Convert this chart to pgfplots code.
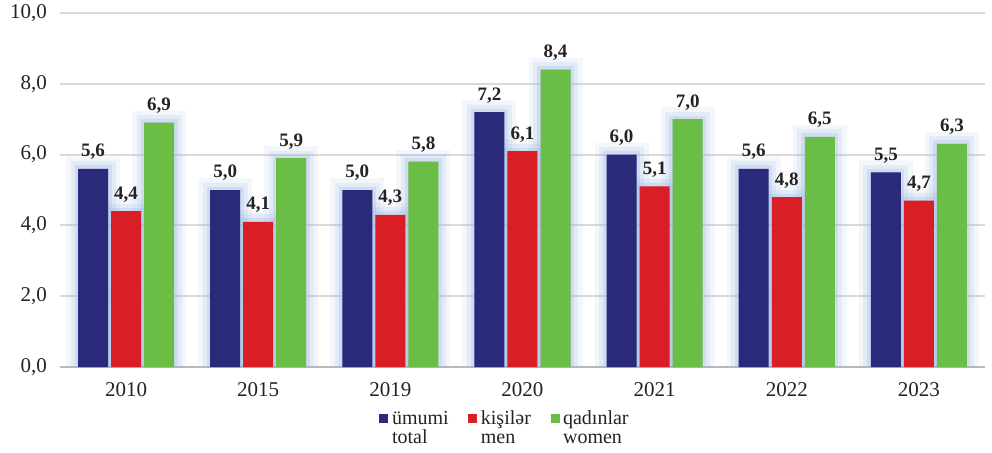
\documentclass[border=0pt]{standalone}
\usepackage{fontspec}
\setmainfont{Liberation Serif}
\usepackage{pgfplots}
\pgfplotsset{compat=1.18}
\definecolor{cblue}{RGB}{43,42,122}
\definecolor{cred}{RGB}{218,30,38}
\definecolor{cgreen}{RGB}{106,189,69}
\definecolor{halo}{RGB}{160,187,228}
\definecolor{gridc}{RGB}{218,218,218}
\definecolor{txt}{RGB}{35,35,35}
\begin{document}
\begin{tikzpicture}
\useasboundingbox (-30pt,-42.5pt) rectangle (466pt,183.5pt);
\begin{axis}[
  at={(0,0)}, anchor=south west,
  scale only axis, width=462.5pt, height=177pt,
  ymin=0, ymax=10, ytick={0,2,...,10},
  xmin=-0.5, xmax=6.5, xtick={0,...,6},
  xticklabels={2010,2015,2019,2020,2021,2022,2023},
  ybar, bar width=0.227,
  axis x line*=bottom, axis y line*=left,
  y axis line style={draw=none},
  x axis line style={draw={rgb,255:red,185;green,185;blue,185}, line width=1pt},
  major tick length=0pt,
  ymajorgrids, grid style={gridc, line width=1pt},
  tick label style={font=\rmfamily\fontsize{10.5}{12}\selectfont, text=txt},
  /pgf/number format/assume math mode=true,
  yticklabel style={/tikz/xshift=-3pt, /pgf/number format/use comma, /pgf/number format/fixed, /pgf/number format/fixed zerofill, /pgf/number format/precision=1},
  xticklabel style={/tikz/yshift=-4pt},
  every node near coord/.append style={font=\rmfamily\bfseries\fontsize{9.5}{11}\selectfont, text=txt, anchor=south, yshift=1pt,
     /pgf/number format/use comma, /pgf/number format/fixed, /pgf/number format/fixed zerofill, /pgf/number format/precision=1},
  legend style={at={(0.482,-0.099)}, anchor=north, draw=none, fill=none,
     legend columns=3, font=\rmfamily\fontsize{10}{9.6}\selectfont, text=txt,
     cells={align=left, anchor=north west, font=\rmfamily\fontsize{10}{9.6}\selectfont},
     nodes={inner xsep=1.8pt},
     /tikz/every even column/.append style={column sep=8pt}},
  legend image code/.code={\fill[#1] (0pt,-8.4pt) rectangle (4.5pt,-3.6pt);},
]
% halos
\addplot[forget plot, bar shift=-0.25, fill=halo, draw=halo, line width=12pt, opacity=0.12] coordinates {(0,5.6) (1,5.0) (2,5.0) (3,7.2) (4,6.0) (5,5.6) (6,5.5)};
\addplot[forget plot, bar shift=0, fill=halo, draw=halo, line width=12pt, opacity=0.12] coordinates {(0,4.4) (1,4.1) (2,4.3) (3,6.1) (4,5.1) (5,4.8) (6,4.7)};
\addplot[forget plot, bar shift=0.25, fill=halo, draw=halo, line width=12pt, opacity=0.12] coordinates {(0,6.9) (1,5.9) (2,5.8) (3,8.4) (4,7.0) (5,6.5) (6,6.3)};
\addplot[forget plot, bar shift=-0.25, fill=halo, draw=halo, line width=7.5pt, opacity=0.2] coordinates {(0,5.6) (1,5.0) (2,5.0) (3,7.2) (4,6.0) (5,5.6) (6,5.5)};
\addplot[forget plot, bar shift=0, fill=halo, draw=halo, line width=7.5pt, opacity=0.2] coordinates {(0,4.4) (1,4.1) (2,4.3) (3,6.1) (4,5.1) (5,4.8) (6,4.7)};
\addplot[forget plot, bar shift=0.25, fill=halo, draw=halo, line width=7.5pt, opacity=0.2] coordinates {(0,6.9) (1,5.9) (2,5.8) (3,8.4) (4,7.0) (5,6.5) (6,6.3)};
\addplot[forget plot, bar shift=-0.25, fill=halo, draw=halo, line width=3.5pt, opacity=0.3] coordinates {(0,5.6) (1,5.0) (2,5.0) (3,7.2) (4,6.0) (5,5.6) (6,5.5)};
\addplot[forget plot, bar shift=0, fill=halo, draw=halo, line width=3.5pt, opacity=0.3] coordinates {(0,4.4) (1,4.1) (2,4.3) (3,6.1) (4,5.1) (5,4.8) (6,4.7)};
\addplot[forget plot, bar shift=0.25, fill=halo, draw=halo, line width=3.5pt, opacity=0.3] coordinates {(0,6.9) (1,5.9) (2,5.8) (3,8.4) (4,7.0) (5,6.5) (6,6.3)};
% bars
\addplot[bar shift=-0.25, fill=cblue, draw=none, nodes near coords] coordinates {(0,5.6) (1,5.0) (2,5.0) (3,7.2) (4,6.0) (5,5.6) (6,5.5)};
\addlegendentry{ümumi\\total}
\addplot[bar shift=0, fill=cred, draw=none, nodes near coords] coordinates {(0,4.4) (1,4.1) (2,4.3) (3,6.1) (4,5.1) (5,4.8) (6,4.7)};
\addlegendentry{kişilər\\men}
\addplot[bar shift=0.25, fill=cgreen, draw=none, nodes near coords] coordinates {(0,6.9) (1,5.9) (2,5.8) (3,8.4) (4,7.0) (5,6.5) (6,6.3)};
\addlegendentry{qadınlar\\women}
\end{axis}
\end{tikzpicture}
\end{document}
